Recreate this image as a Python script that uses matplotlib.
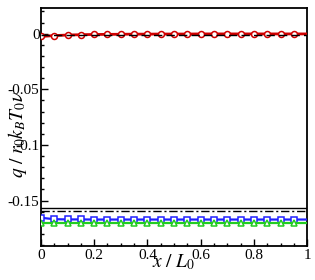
import numpy as np
import matplotlib
matplotlib.use('Agg')
import matplotlib.pyplot as plt

plt.rcParams['font.family'] = ['Liberation Serif', 'DejaVu Serif']
plt.rcParams['mathtext.fontset'] = 'stix'

# данные
x = [0.0, 0.05, 0.1, 0.15, 0.2, 0.25, 0.3, 0.35, 0.4, 0.45, 0.5,
     0.55, 0.6, 0.65, 0.7, 0.75, 0.8, 0.85, 0.9, 0.95, 1.0]
q_red = [-0.0025, -0.0017, -0.0012, -0.0009, -0.0007, -0.0006, -0.0005, -0.0004, -0.0004, -0.0003, -0.0003,
         -0.0003, -0.0002, -0.0002, -0.0002, -0.0002, -0.0002, -0.0002, -0.0002, -0.0002, -0.0002]
q_ref_top = [-0.001] * 21
q_black = [-0.157] * 21
q_dashdot = [-0.1598] * 21
q_blue = [-0.1655, -0.1668, -0.1670, -0.1670, -0.1671, -0.1671, -0.1671, -0.1671, -0.1671, -0.1671, -0.1671,
          -0.1671, -0.1671, -0.1671, -0.1671, -0.1671, -0.1671, -0.1671, -0.1671, -0.1671, -0.1671]
q_green = [-0.1705] * 21

xticks = [0, 0.2, 0.4, 0.6, 0.8, 1]
xticklabels = ['0', '0.2', '0.4', '0.6', '0.8', '1']
yticks = [0, -0.05, -0.1, -0.15]
yticklabels = ['0', '-0.05', '-0.1', '-0.15']

fig = plt.figure(figsize=(3.15, 2.8), dpi=100)
ax = fig.add_axes([0.130, 0.121, 0.845, 0.850])

mk = slice(0, 20)
ax.plot(x, q_red, color='#d00000', lw=2.0, marker='o', ms=4.3, mfc='white',
        mec='#d00000', mew=1.1, markevery=mk, zorder=3)
ax.plot(x, q_ref_top, color='black', lw=1.0, ls=(0, (6, 3)), zorder=4)

ax.plot(x, q_black, color='black', lw=1.0, zorder=2)
ax.plot(x, q_dashdot, color='black', lw=1.0, ls=(0, (6, 2, 1.5, 2)), zorder=2)
ax.plot(x, q_blue, color='#2020ff', lw=1.6, marker='s', ms=4.3, mfc='white',
        mec='#2020ff', mew=1.1, markevery=mk, zorder=3)
ax.plot(x, q_green, color='#22cc22', lw=1.6, marker='^', ms=4.8, mfc='white',
        mec='#22cc22', mew=1.1, markevery=mk, zorder=3)

ax.set_xlim(0, 1)
ax.set_ylim(-0.191, 0.023)
ax.set_xticks(xticks)
ax.set_xticklabels(xticklabels)
ax.set_yticks(yticks)
ax.set_yticklabels(yticklabels)
ax.set_xticks(np.arange(0, 1.001, 0.05), minor=True)
ax.set_yticks(np.arange(-0.19, 0.021, 0.01), minor=True)
ax.tick_params(which='both', direction='in', labelsize=11, width=1.0)
ax.tick_params(which='major', length=5)
ax.tick_params(which='minor', length=2.5)
ax.tick_params(axis='x', pad=2)
ax.tick_params(axis='y', pad=1)
for s in ax.spines.values():
    s.set_linewidth(1.3)

ax.set_xlabel(r'$x\ /\ L_0$', fontsize=14, labelpad=-7)
ax.set_ylabel(r'$q\ /\ r_0 k_B T_0 \nu$', fontsize=14)
ax.yaxis.set_label_coords(-0.045, 0.47)

fig.savefig('out.png', dpi=100)
plt.close(fig)
